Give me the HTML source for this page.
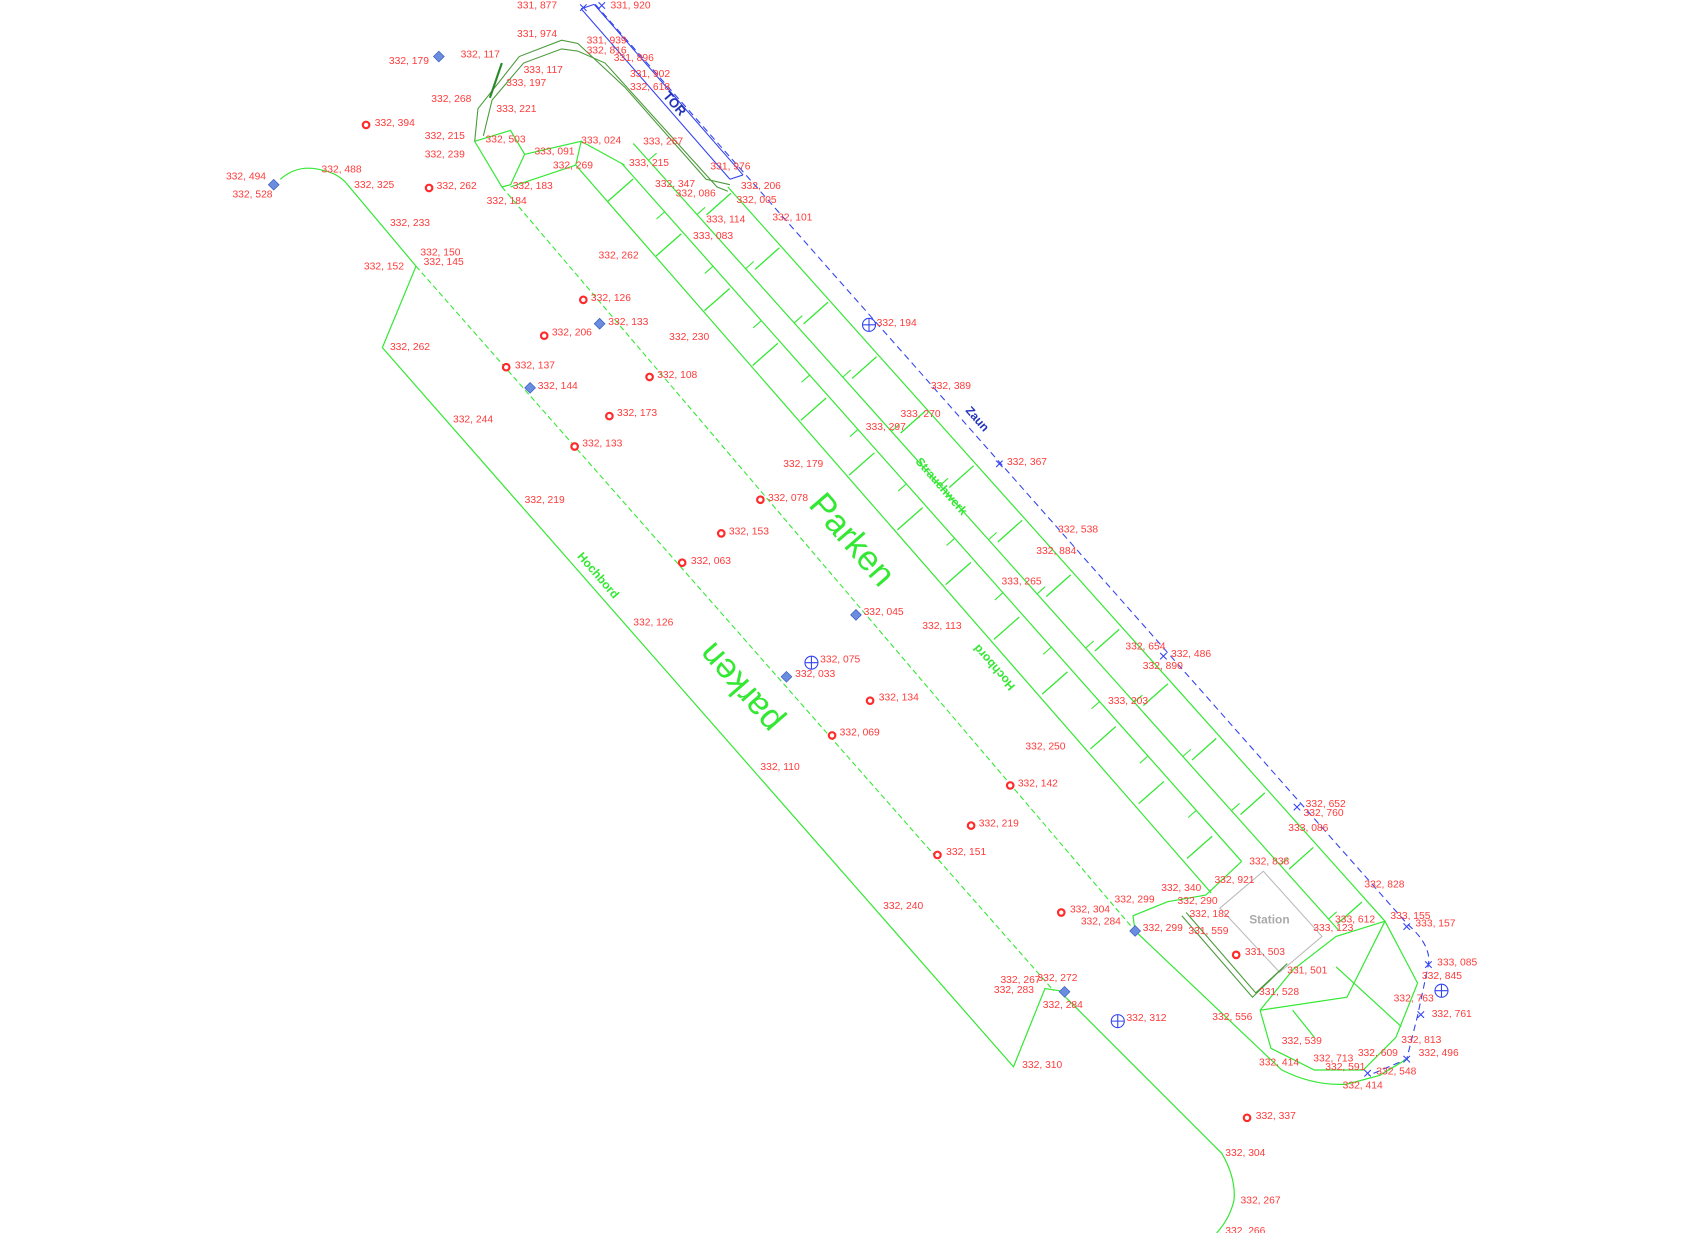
<!DOCTYPE html>
<html><head><meta charset="utf-8"><style>
html,body{margin:0;padding:0;background:#fff;}
svg{display:block}
.l{fill:#ff3b3b;font-family:"Liberation Sans",sans-serif;font-size:9.5px}
.g{stroke:#33e833;fill:none;stroke-width:1.1}
.d{stroke:#33e833;fill:none;stroke-width:1;stroke-dasharray:5 3}
.dg{stroke:#4a9a3a;fill:none;stroke-width:1}
.b{stroke:#3344ee;fill:none;stroke-width:1}
.bd{stroke:#3344ee;fill:none;stroke-width:1;stroke-dasharray:6 4}
.c{fill:#fff;stroke:#ff2a2a;stroke-width:2}
.m{fill:#6a8de0;stroke:#3355bb;stroke-width:.6}
</style></head><body>
<svg width="1700" height="1233" viewBox="0 0 1565 1135" xmlns="http://www.w3.org/2000/svg">
<path class="g" d="M258,165 Q275,150 298,157 Q312,160 320,170 L383,245 L352,320 L933,982 L962,910 L975,912 L1125,1062 Q1138,1085 1136,1105 Q1132,1122 1120,1135"/>
<path class="d" d="M383,245 L970,912"/>
<path class="d" d="M462,172 L1045,857"/>
<path class="g" d="M530,152 L1115,822"/>
<path class="g" d="M572,150 L1143,793"/>
<path class="g" d="M583,132 L1232,856"/>
<path class="g" d="M670,172 L1275,848"/>
<path d="M551,152 L1129,808" stroke="#33e833" stroke-width="31" stroke-dasharray="1.2 66" stroke-dashoffset="-30" fill="none"/>
<path d="M628,150 L1253,852" stroke="#33e833" stroke-width="30" stroke-dasharray="1.2 66" stroke-dashoffset="-50" fill="none"/>
<path d="M572,150 L1143,793" stroke="#33e833" stroke-width="10" stroke-dasharray="1 66" stroke-dashoffset="-60" fill="none" transform="translate(-4,3)"/>
<path d="M583,132 L1232,856" stroke="#33e833" stroke-width="10" stroke-dasharray="1 66" stroke-dashoffset="-20" fill="none" transform="translate(4,-3)"/>
<path class="g" d="M437,130 L470,120 L483,142 L470,170 L462,172 Z"/>
<path class="g" d="M483,142 L535,130 L530,152 L470,172"/>
<path class="g" d="M535,130 L575,152"/>
<path class="dg" d="M437,130 L440,100 L478,52 L517,37 L532,40 L575,80 L650,165 L672,170"/>
<path class="dg" d="M445,125 L453,92 L482,58 L517,45 L532,47 L557,58 L660,172 L670,176"/>
<path d="M451,90 L462,58" stroke="#2a8a2a" stroke-width="2"/>
<path class="b" d="M535,8 L672,165 M547,4 L684,161 M535,8 L547,4 M672,165 L684,161"/>
<path class="bd" d="M548,4 L1295,850 Q1318,870 1315,888 L1305,935 L1295,975 L1260,990"/>
<path d="M1163,802 L1217,862 L1178,895 L1123,836 Z" stroke="#bbb" fill="none"/>
<path class="g" d="M1045,857 L1043,843 L1075,830 L1110,824 L1143,793"/>
<path class="g" d="M1045,857 L1180,985 Q1210,1000 1240,998 L1270,990 L1295,975"/>
<path class="g" d="M1160,930 L1170,965 L1210,985 L1255,985 L1285,955 L1305,905 L1275,848 L1230,862 L1190,893 L1160,930"/>
<path class="g" d="M1160,930 L1240,918 L1275,848 M1230,890 L1290,945 M1190,930 L1210,955"/>
<path class="dg" d="M1088,843 L1153,918 L1182,890 M1092,840 L1156,914 L1185,887"/>
<g font-family="Liberation Sans,sans-serif" font-weight="bold">
<text x="0" y="0" transform="translate(783,498) rotate(49)" font-size="32" fill="#33e833" text-anchor="middle" dominant-baseline="middle" font-weight="normal">Parken</text>
<text x="0" y="0" transform="translate(683,632) rotate(229)" font-size="32" fill="#33e833" text-anchor="middle" dominant-baseline="middle" font-weight="normal">parken</text>
<text transform="translate(548,532) rotate(49)" font-size="11" fill="#33e833" text-anchor="middle">Hochbord</text>
<text transform="translate(918,612) rotate(229)" font-size="11" fill="#33e833" text-anchor="middle">Hochbord</text>
<text transform="translate(864,450) rotate(49)" font-size="11" fill="#33e833" text-anchor="middle">Strauchwerk</text>
<text transform="translate(897,388) rotate(49)" font-size="11" fill="#2233bb" text-anchor="middle">Zaun</text>
<text transform="translate(618,98) rotate(49)" font-size="12" fill="#2233bb" text-anchor="middle">TOR</text>
<text x="1150" y="850" font-size="11" fill="#aaa">Station</text>
</g>
<g>
<circle class="c" cx="337" cy="115" r="3"/><circle class="c" cx="395" cy="173" r="3"/><circle class="c" cx="537" cy="276" r="3"/><circle class="c" cx="501" cy="309" r="3"/><circle class="c" cx="466" cy="338" r="3"/><circle class="c" cx="598" cy="347" r="3"/><circle class="c" cx="561" cy="383" r="3"/><circle class="c" cx="529" cy="411" r="3"/><circle class="c" cx="700" cy="460" r="3"/><circle class="c" cx="664" cy="491" r="3"/><circle class="c" cx="628" cy="518" r="3"/><circle class="c" cx="801" cy="645" r="3"/><circle class="c" cx="766" cy="677" r="3"/><circle class="c" cx="930" cy="723" r="3"/><circle class="c" cx="894" cy="760" r="3"/><circle class="c" cx="863" cy="787" r="3"/><circle class="c" cx="977" cy="840" r="3"/><circle class="c" cx="1138" cy="879" r="3"/><circle class="c" cx="1148" cy="1029" r="3"/>
<g class="m"><rect x="-3.5" y="-3.5" width="7" height="7" transform="translate(404,52) rotate(45)"/><rect x="-3.5" y="-3.5" width="7" height="7" transform="translate(252,170) rotate(45)"/><rect x="-3.5" y="-3.5" width="7" height="7" transform="translate(552,298) rotate(45)"/><rect x="-3.5" y="-3.5" width="7" height="7" transform="translate(488,357) rotate(45)"/><rect x="-3.5" y="-3.5" width="7" height="7" transform="translate(788,566) rotate(45)"/><rect x="-3.5" y="-3.5" width="7" height="7" transform="translate(724,623) rotate(45)"/><rect x="-3.5" y="-3.5" width="7" height="7" transform="translate(1045,857) rotate(45)"/><rect x="-3.5" y="-3.5" width="7" height="7" transform="translate(980,913) rotate(45)"/></g>
<g class="b"><circle cx="800" cy="299" r="6"/><path d="M794,299h12M800,293v12"/><circle cx="747" cy="610" r="6"/><path d="M741,610h12M747,604v12"/><circle cx="1029" cy="940" r="6"/><path d="M1023,940h12M1029,934v12"/><circle cx="1327" cy="912" r="6"/><path d="M1321,912h12M1327,906v12"/>
<path d="M917,424l6,6M923,424l-6,6M1068,601l6,6M1074,601l-6,6M1191,740l6,6M1197,740l-6,6M1292,850l6,6M1298,850l-6,6M1312,885l6,6M1318,885l-6,6M1305,931l6,6M1311,931l-6,6M1292,972l6,6M1298,972l-6,6M1256,985l6,6M1262,985l-6,6M551,2l6,6M557,2l-6,6M534,4l6,6M540,4l-6,6"/></g>
</g>
<g class="l">
<text x="476" y="8">331, 877</text><text x="562" y="8">331, 920</text><text x="476" y="34">331, 974</text><text x="540" y="40">331, 939</text><text x="540" y="49">332, 816</text><text x="565" y="56">331, 896</text><text x="424" y="53">332, 117</text><text x="358" y="59">332, 179</text><text x="482" y="67">333, 117</text><text x="580" y="71">331, 902</text><text x="466" y="79">333, 197</text><text x="580" y="83">332, 618</text><text x="397" y="94">332, 268</text><text x="457" y="103">333, 221</text><text x="345" y="116">332, 394</text><text x="391" y="128">332, 215</text><text x="447" y="131">332, 503</text><text x="535" y="132">333, 024</text><text x="592" y="133">333, 267</text><text x="391" y="145">332, 239</text><text x="492" y="142">333, 091</text><text x="579" y="153">333, 215</text><text x="509" y="155">332, 269</text><text x="654" y="156">331, 976</text><text x="208" y="165">332, 494</text><text x="296" y="159">332, 488</text><text x="326" y="173">332, 325</text><text x="402" y="174">332, 262</text><text x="472" y="174">332, 183</text><text x="603" y="172">332, 347</text><text x="682" y="174">332, 206</text><text x="214" y="182">332, 528</text><text x="622" y="181">332, 086</text><text x="678" y="187">332, 005</text><text x="448" y="188">332, 184</text><text x="711" y="203">332, 101</text><text x="650" y="205">333, 114</text><text x="359" y="208">332, 233</text><text x="638" y="220">333, 083</text><text x="387" y="235">332, 150</text><text x="551" y="238">332, 262</text><text x="390" y="244">332, 145</text><text x="335" y="248">332, 152</text><text x="544" y="277">332, 126</text><text x="807" y="300">332, 194</text><text x="560" y="299">332, 133</text><text x="508" y="309">332, 206</text><text x="616" y="313">332, 230</text><text x="359" y="322">332, 262</text><text x="474" y="339">332, 137</text><text x="605" y="348">332, 108</text><text x="857" y="358">332, 389</text><text x="495" y="358">332, 144</text><text x="829" y="384">333, 270</text><text x="568" y="383">332, 173</text><text x="417" y="389">332, 244</text><text x="797" y="396">333, 297</text><text x="536" y="411">332, 133</text><text x="927" y="428">332, 367</text><text x="721" y="430">332, 179</text><text x="707" y="461">332, 078</text><text x="483" y="463">332, 219</text><text x="671" y="492">332, 153</text><text x="974" y="490">332, 538</text><text x="954" y="510">332, 884</text><text x="636" y="519">332, 063</text><text x="922" y="538">333, 265</text><text x="795" y="566">332, 045</text><text x="849" y="579">332, 113</text><text x="583" y="576">332, 126</text><text x="1036" y="598">332, 654</text><text x="1078" y="605">332, 486</text><text x="1052" y="616">332, 890</text><text x="755" y="610">332, 075</text><text x="732" y="623">332, 033</text><text x="809" y="645">332, 134</text><text x="1020" y="648">333, 203</text><text x="773" y="677">332, 069</text><text x="944" y="690">332, 250</text><text x="700" y="709">332, 110</text><text x="937" y="724">332, 142</text><text x="1202" y="743">332, 652</text><text x="1200" y="751">332, 760</text><text x="901" y="761">332, 219</text><text x="1186" y="765">333, 086</text><text x="871" y="787">332, 151</text><text x="1150" y="796">332, 838</text><text x="1118" y="813">332, 921</text><text x="1256" y="817">332, 828</text><text x="1069" y="820">332, 340</text><text x="1026" y="831">332, 299</text><text x="1084" y="832">332, 290</text><text x="813" y="837">332, 240</text><text x="985" y="840">332, 304</text><text x="1095" y="844">332, 182</text><text x="1229" y="849">333, 612</text><text x="995" y="851">332, 284</text><text x="1280" y="846">333, 155</text><text x="1303" y="853">333, 157</text><text x="1052" y="857">332, 299</text><text x="1094" y="860">331, 559</text><text x="1209" y="857">333, 123</text><text x="1146" y="879">331, 503</text><text x="1323" y="889">333, 085</text><text x="1185" y="896">331, 501</text><text x="1309" y="901">332, 845</text><text x="921" y="905">332, 267</text><text x="955" y="903">332, 272</text><text x="915" y="914">332, 283</text><text x="1159" y="916">331, 528</text><text x="960" y="928">332, 284</text><text x="1283" y="922">332, 763</text><text x="1037" y="940">332, 312</text><text x="1116" y="939">332, 556</text><text x="1318" y="936">332, 761</text><text x="1180" y="961">332, 539</text><text x="1290" y="960">332, 813</text><text x="1159" y="981">332, 414</text><text x="1209" y="977">332, 713</text><text x="1250" y="972">332, 609</text><text x="1306" y="972">332, 496</text><text x="1220" y="985">332, 591</text><text x="941" y="983">332, 310</text><text x="1267" y="989">332, 548</text><text x="1236" y="1002">332, 414</text><text x="1156" y="1030">332, 337</text><text x="1128" y="1064">332, 304</text><text x="1142" y="1108">332, 267</text><text x="1128" y="1136">332, 266</text>
</g>
</svg>
</body></html>
